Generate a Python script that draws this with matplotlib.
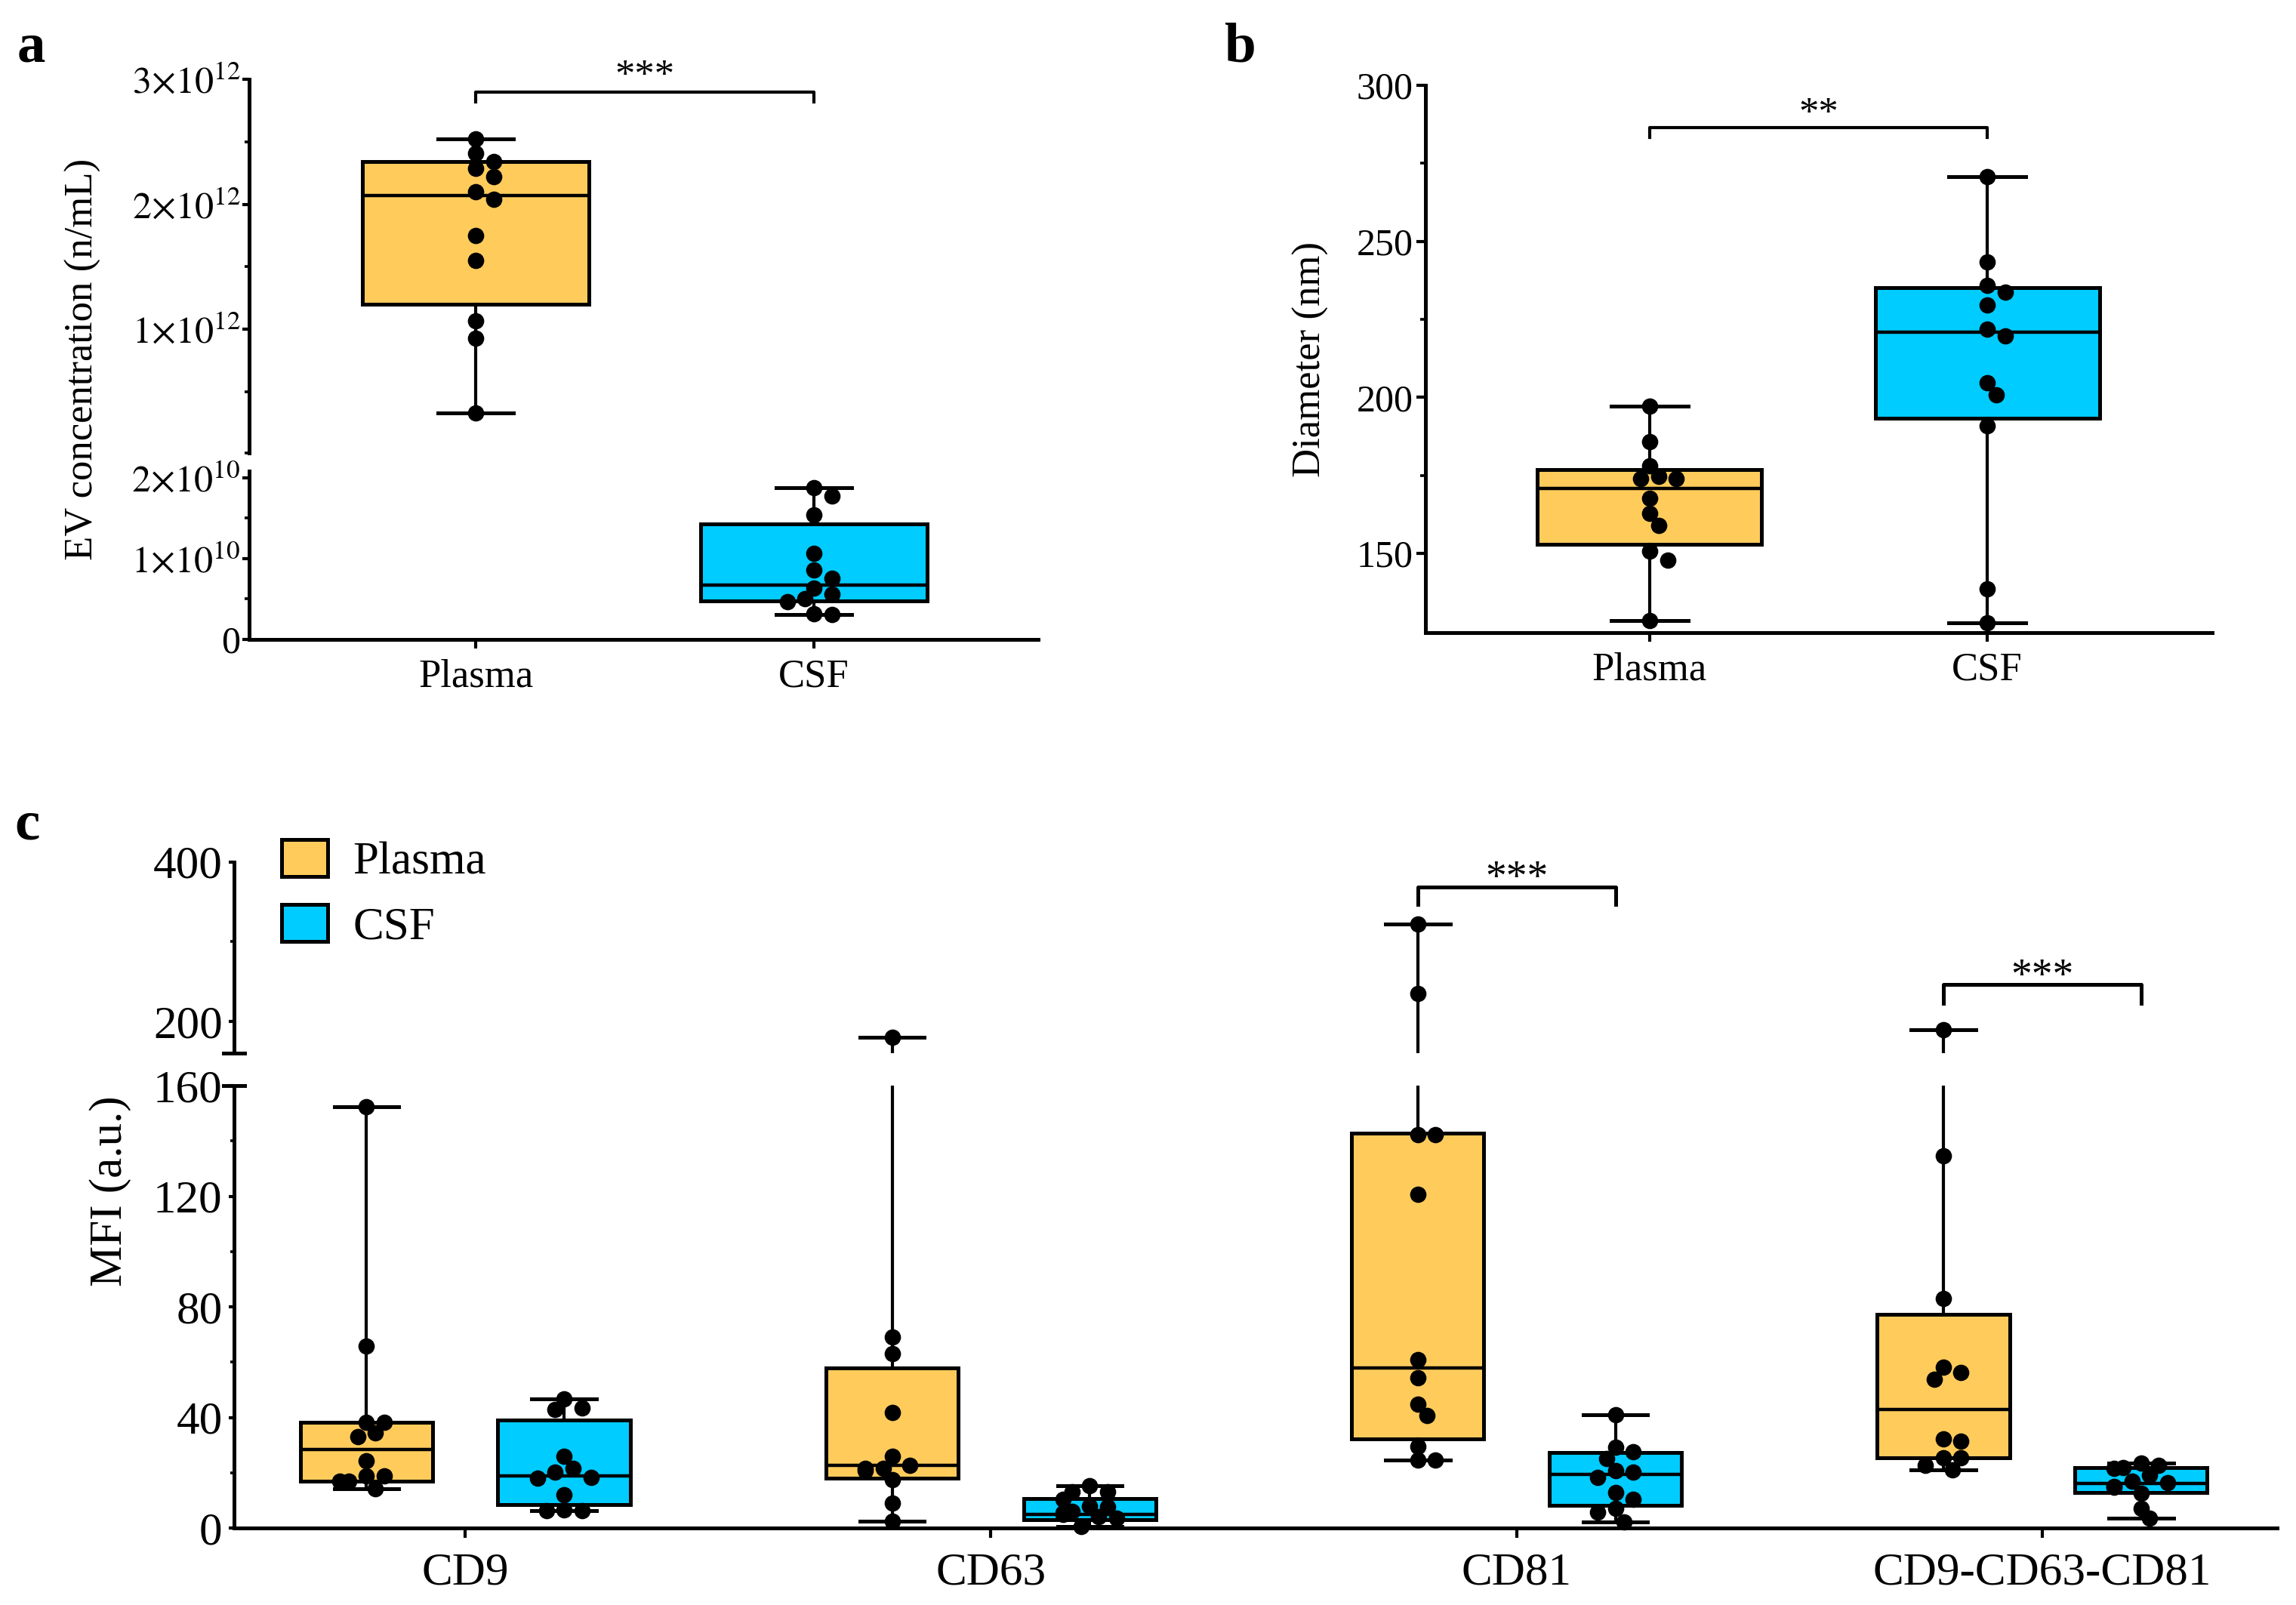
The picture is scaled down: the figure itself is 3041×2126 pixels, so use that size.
import matplotlib
matplotlib.use('Agg')
import matplotlib.pyplot as plt
from matplotlib.patches import Patch

plt.rcParams['font.family'] = ['Liberation Serif', 'DejaVu Serif']
plt.rcParams['mathtext.fontset'] = 'stix'

ORANGE = '#FFCC5C'
BLUE = '#00CCFF'

# ---- data ----
groups = ['Plasma', 'CSF']

# a: EV concentration (n/mL)
a_plasma = [2.52e12, 2.41e12, 2.34e12, 2.29e12, 2.22e12, 2.10e12,
            2.04e12, 1.75e12, 1.55e12, 1.07e12, 0.93e12, 0.33e12]
a_csf = [1.87e10, 1.77e10, 1.54e10, 1.06e10, 0.86e10, 0.75e10,
         0.63e10, 0.56e10, 0.50e10, 0.46e10, 0.31e10, 0.30e10]
a_box = {'Plasma': (1.20e12, 2.07e12, 2.34e12), 'CSF': (0.47e10, 0.67e10, 1.43e10)}

# b: diameter (nm)
b_plasma = [197.1, 185.8, 178.0, 174.8, 174.0, 174.0, 167.7, 162.9, 158.9, 150.7, 147.8, 128.4]
b_csf = [270.7, 243.5, 235.8, 233.6, 229.6, 221.8, 219.6, 204.7, 200.7, 190.9, 138.6, 127.7]
b_box = {'Plasma': (152.9, 170.8, 176.8), 'CSF': (193.3, 220.9, 235.1)}

# c: MFI (a.u.)
markers = ['CD9', 'CD63', 'CD81', 'CD9-CD63-CD81']
c_plasma = {
    'CD9': [152.3, 65.8, 38.3, 38.3, 34.3, 33.0, 24.2, 18.9, 18.9, 17.0, 17.0, 14.2],
    'CD63': [180.0, 69.2, 63.2, 41.9, 26.0, 22.6, 21.7, 21.7, 20.8, 17.4, 8.9, 2.5],
    'CD81': [322.0, 235.3, 142.3, 142.3, 120.6, 60.9, 54.3, 44.7, 40.6, 29.6, 24.5, 24.5],
    'CD9-CD63-CD81': [189.0, 134.5, 83.0, 58.1, 56.2, 53.8, 32.1, 31.5, 25.5, 25.5, 22.6, 21.1],
}
c_csf = {
    'CD9': [46.6, 43.4, 43.0, 26.0, 21.7, 20.2, 18.3, 17.9, 11.9, 6.6, 6.2, 6.2],
    'CD63': [15.2, 13.1, 13.1, 10.5, 8.0, 7.6, 6.0, 5.5, 5.0, 4.0, 3.5, 0.5],
    'CD81': [40.9, 29.2, 27.7, 25.1, 20.8, 20.2, 18.3, 12.8, 10.4, 7.0, 5.7, 2.3],
    'CD9-CD63-CD81': [23.5, 22.6, 21.9, 21.5, 19.0, 17.0, 16.5, 15.0, 14.7, 12.6, 7.1, 3.5],
}
c_box_plasma = {'CD9': (17.0, 28.3, 38.3), 'CD63': (17.9, 22.6, 57.9),
                'CD81': (32.1, 57.9, 142.8), 'CD9-CD63-CD81': (25.5, 43.0, 77.4)}
c_box_csf = {'CD9': (8.5, 18.9, 39.1), 'CD63': (3.0, 5.0, 10.7),
             'CD81': (8.1, 19.4, 27.4), 'CD9-CD63-CD81': (12.8, 16.1, 21.8)}

# ---- figure ----
W, H, DPI = 3041, 2126, 200
fig = plt.figure(figsize=(W / DPI, H / DPI), dpi=DPI)


def px_axes(left, top, right, bottom):
    return fig.add_axes([left / W, 1 - bottom / H, (right - left) / W, (bottom - top) / H])


def style(ax, bottom=True, lw=1.8):
    ax.spines['top'].set_visible(False)
    ax.spines['right'].set_visible(False)
    ax.spines['left'].set_linewidth(lw)
    if bottom:
        ax.spines['bottom'].set_linewidth(lw)
    else:
        ax.spines['bottom'].set_visible(False)
        ax.tick_params(axis='x', bottom=False, labelbottom=False)
    ax.patch.set_alpha(0)


def box(ax, pos, vals, q, color, width, capw):
    st = dict(q1=q[0], med=q[1], q3=q[2], whislo=min(vals), whishi=max(vals), fliers=[])
    ax.bxp([st], positions=[pos], widths=width, capwidths=capw, patch_artist=True,
           showfliers=False, manage_ticks=False,
           boxprops=dict(facecolor=color, edgecolor='black', linewidth=1.8),
           medianprops=dict(color='black', linewidth=1.6),
           whiskerprops=dict(color='black', linewidth=1.5),
           capprops=dict(color='black', linewidth=1.8))


def swarm(center, vals, pick_ax, dot=19, step=0.62):
    placed, xs = [], []
    for v in vals:
        ax = pick_ax(v)
        cx, cy = ax.transData.transform((center, v))
        for k in [0, 1, -1, 2, -2, 3, -3]:
            px = cx + k * step * dot
            if all((px - qx) ** 2 + (cy - qy) ** 2 >= (0.92 * dot) ** 2 for qx, qy in placed):
                break
        placed.append((px, cy))
        xs.append(ax.transData.inverted().transform((px, cy))[0])
    return xs


def dots(axes, xs, vals):
    # each point only in the axes segment whose range holds it
    for ax in axes:
        lo, hi = ax.get_ylim()
        sel = [(x, v) for x, v in zip(xs, vals) if lo <= v <= hi]
        if sel:
            ax.plot([s[0] for s in sel], [s[1] for s in sel], 'o', color='black',
                    ms=6.8, zorder=5, clip_on=False)


# ---------- panel a ----------
a_up = px_axes(330, 105, 1375, 600)
a_lo = px_axes(330, 624, 1375, 846.5)
for ax in (a_up, a_lo):
    ax.set_xlim(-0.67, 1.663)
a_up.set_ylim(0.01e12, 3e12)
a_lo.set_ylim(0, 2.08e10)
style(a_up, bottom=False)
style(a_lo)

# plasma lives on the upper segment, CSF on the lower one
for i, (g, vals, ax) in enumerate(zip(groups, [a_plasma, a_csf], [a_up, a_lo])):
    col = ORANGE if i == 0 else BLUE
    box(ax, i, vals, a_box[g], col, 0.67, 0.224)
    dots((ax,), swarm(i, vals, lambda v, ax=ax: ax), vals)

a_up.set_yticks([1e12, 2e12, 3e12])
a_up.set_yticklabels([r'$1{\times}10^{12}$', r'$2{\times}10^{12}$', r'$3{\times}10^{12}$'])
a_up.set_yticks([0.01e12, 0.5e12, 1.5e12, 2.5e12], minor=True)
a_lo.set_yticks([0, 1e10, 2e10])
a_lo.set_yticklabels(['0', r'$1{\times}10^{10}$', r'$2{\times}10^{10}$'])
a_lo.set_yticks([0.5e10, 1.5e10], minor=True)
a_lo.set_xticks([0, 1])
a_lo.set_xticklabels(groups)
for ax in (a_up, a_lo):
    ax.tick_params(axis='y', which='major', length=3.2, width=1.5, labelsize=18, pad=1)
    ax.tick_params(axis='y', which='minor', length=2.2, width=1.3)
a_lo.tick_params(axis='x', length=4.3, width=1.5, labelsize=19, pad=5)

a_up.plot([0, 0, 1, 1], [2.82e12, 2.9e12, 2.9e12, 2.82e12], color='black', lw=1.5, clip_on=False)
a_up.text(0.5, 2.937e12, '***', ha='center', va='baseline', fontsize=19, clip_on=False)
fig.text(110 / W, 1 - 476 / H, 'EV concentration (n/mL)', rotation=90, ha='center', va='center', fontsize=19)

# ---------- panel b ----------
b_ax = px_axes(1888, 113, 2930, 838)
b_ax.set_xlim(-0.664, 1.666)
b_ax.set_ylim(124.6, 300)
style(b_ax)
for i, (g, vals) in enumerate(zip(groups, [b_plasma, b_csf])):
    col = ORANGE if i == 0 else BLUE
    box(b_ax, i, vals, b_box[g], col, 0.664, 0.227)
    dots((b_ax,), swarm(i, vals, lambda v: b_ax), vals)
b_ax.set_yticks([150, 200, 250, 300])
b_ax.set_yticks([175, 225, 275], minor=True)
b_ax.set_xticks([0, 1])
b_ax.set_xticklabels(groups)
b_ax.tick_params(axis='y', which='major', length=4.5, width=1.5, labelsize=18, pad=1.5)
b_ax.tick_params(axis='y', which='minor', length=2.5, width=1.3)
b_ax.tick_params(axis='x', length=4.3, width=1.5, labelsize=19, pad=5)
b_ax.plot([0, 0, 1, 1], [283.4, 286.4, 286.4, 283.4], color='black', lw=1.5, clip_on=False)
b_ax.text(0.5, 287.5, '**', ha='center', va='baseline', fontsize=19, clip_on=False)
fig.text(1736 / W, 1 - 476 / H, 'Diameter (nm)', rotation=90, ha='center', va='center', fontsize=19)

# ---------- panel c ----------
c_up = px_axes(310, 1141.7, 3016, 1395)
c_lo = px_axes(310, 1438, 3016, 2024)
for ax in (c_up, c_lo):
    ax.set_xlim(-0.44, 3.447)
c_up.set_ylim(160, 400)
c_lo.set_ylim(0, 160)
style(c_up, bottom=False)
style(c_lo)

off = 0.188
pick_c = lambda v: c_up if v > 160 else c_lo
for j, m in enumerate(markers):
    for k, (src, q, col) in enumerate([(c_plasma, c_box_plasma, ORANGE), (c_csf, c_box_csf, BLUE)]):
        pos = j + (-off if k == 0 else off)
        vals = src[m]
        for ax in (c_up, c_lo):
            box(ax, pos, vals, q[m], col, 0.252, 0.123)
        dots((c_up, c_lo), swarm(pos, vals, pick_c), vals)

c_up.set_yticks([200, 400])
c_up.set_yticks([300], minor=True)
c_lo.set_yticks([0, 40, 80, 120, 160])
c_lo.set_yticks([20, 60, 100, 140], minor=True)
c_lo.set_xticks(range(len(markers)))
c_lo.set_xticklabels(markers)
for ax in (c_up, c_lo):
    ax.tick_params(axis='y', which='major', length=2.5, width=1.5, labelsize=22, pad=3)
    ax.tick_params(axis='y', which='minor', length=1.8, width=1.3)
c_lo.tick_params(axis='x', length=4.5, width=1.5, labelsize=22, pad=7)

# break marks on the y axis
hw = 14 / (3016 - 310)
c_up.plot([-hw, hw], [0, 0], transform=c_up.transAxes, color='black', lw=1.8, clip_on=False)
c_lo.plot([-hw, hw], [1, 1], transform=c_lo.transAxes, color='black', lw=1.8, clip_on=False)

# significance
c_up.plot([2 - off, 2 - off, 2 + off, 2 + off], [346.4, 368, 368, 346.4], color='black', lw=1.8, clip_on=False)
c_up.text(2, 364.6, '***', ha='center', va='baseline', fontsize=20, clip_on=False)
c_up.plot([3 - off, 3 - off, 3 + off, 3 + off], [222.5, 246.6, 246.6, 222.5], color='black', lw=1.8, clip_on=False)
c_up.text(3, 241.4, '***', ha='center', va='baseline', fontsize=20, clip_on=False)

fig.text(146 / W, 1 - 1578 / H, 'MFI (a.u.)', rotation=90, ha='center', va='center', fontsize=22)

handles = [Patch(facecolor=ORANGE, edgecolor='black', linewidth=1.8, label='Plasma'),
           Patch(facecolor=BLUE, edgecolor='black', linewidth=1.8, label='CSF')]
fig.legend(handles=handles, loc='upper left', bbox_to_anchor=(373 / W, 1 - 1112 / H),
           frameon=False, fontsize=22, handlelength=1.0, handleheight=0.85,
           handletextpad=0.55, labelspacing=0.45, borderpad=0, borderaxespad=0)

# panel letters
for x, y, s in [(23, 82, 'a'), (1622, 82, 'b'), (19.5, 1112, 'c')]:
    fig.text(x / W, 1 - y / H, s, fontsize=27, fontweight='bold', va='baseline')

fig.savefig('out.png', dpi=DPI)
